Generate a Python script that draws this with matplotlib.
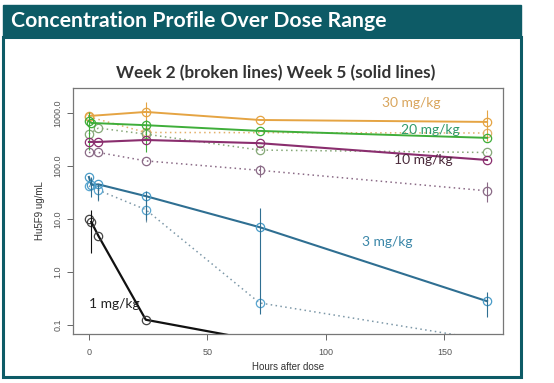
import numpy as np
import matplotlib.pyplot as plt
from matplotlib.patches import Rectangle

# sampling times (hours after dose)
times = [0, 1, 4, 24, 72, 168]
nan = np.nan

# Week 5 (solid lines)
w5_30 = [880, nan, nan, 1050, 740, 680]
w5_20 = [700, 650, nan, 590, 460, 340]
w5_10 = [285, nan, 285, 310, 270, 130]
w5_3 = [62, 44, 45, 27, 7.0, 0.28]
w5_1 = [nan, 8.8, 4.8, 0.125, 0.05, nan]

# Week 2 (broken lines)
w2_30 = [850, nan, nan, 430, nan, 420]
w2_20 = [400, nan, 520, 400, 200, 180]
w2_10 = [180, nan, 180, 125, 83, 34]
w2_3 = [42, nan, 35, 15, 0.26, 0.052]
w2_1 = [10, nan, nan, nan, nan, nan]

# error bar ranges (low, high), nan = none drawn
w5_30_lo = [nan, nan, nan, 520, nan, 300]
w5_30_hi = [nan, nan, nan, 1620, nan, 1150]
w5_20_lo = [200, nan, nan, 180, nan, nan]
w5_20_hi = [1040, nan, nan, 740, nan, nan]
w5_3_lo = [nan, 26, 23, 9.6, 0.16, 0.14]
w5_3_hi = [nan, 62, 45, 34, 16, 0.42]
w5_1_lo = [nan, 2.3, nan, nan, nan, nan]
w5_1_hi = [nan, 15, nan, nan, nan, nan]
w2_10_lo = [nan, nan, nan, nan, 62, 21]
w2_10_hi = [nan, nan, nan, nan, 105, 50]
w2_3_lo = [nan, nan, 22, 8.7, nan, nan]
w2_3_hi = [nan, nan, 45, 23, nan, nan]

doses = ["30 mg/kg", "20 mg/kg", "10 mg/kg", "3 mg/kg", "1 mg/kg"]
label_x = [136, 144, 141, 126, 0]
label_y = [1540, 480, 130, 3.7, 0.25]

col_30 = "#e5a443"
col_20 = "#3fae3a"
col_10 = "#8a2e6e"
col_3 = "#2f6f92"
col_1 = "#111111"
teal = "#0d5b66"

W, H = 554, 383
fig = plt.figure(figsize=(W / 100, H / 100), dpi=100)
fig.patch.set_facecolor("white")

# banner + panel frame
fig.patches.append(Rectangle((3 / W, 1 - 377 / H), 518 / W, 340 / H, transform=fig.transFigure,
                             facecolor="none", edgecolor=teal, lw=2.2, zorder=0))
fig.patches.append(Rectangle((3 / W, 1 - 37 / H), 518 / W, 32 / H, transform=fig.transFigure,
                             facecolor=teal, edgecolor=teal, lw=1, zorder=1))
fig.text(11 / W, 1 - 21 / H, "Concentration Profile Over Dose Range", color="white",
         fontsize=15.3, fontfamily="Lato", fontweight="bold", va="center", ha="left")
fig.text(276 / W, 1 - 73 / H, "Week 2 (broken lines) Week 5 (solid lines)", color="#333333",
         fontsize=12.3, fontfamily="Lato", fontweight="bold", va="center", ha="center")

ax = fig.add_axes([73 / W, 1 - 334 / H, 430 / W, 246 / H])
ax.set_yscale("log")
ax.set_xlim(-6.72, 174.72)
ax.set_ylim(10 ** -1.172, 10 ** 3.473)


def draw(y, color, ls, lw, lo=None, hi=None, mcolor=None):
    t = np.array(times, float)
    y = np.array(y, float)
    ok = ~np.isnan(y)
    line, = ax.plot(t[ok], y[ok], ls=ls, color=color, lw=lw, marker="o", ms=6,
                    mfc="none", mec=mcolor or color, mew=0.9)
    if ls == ":":
        line.set_dashes([1, 2.2])
    if lo is not None:
        ax.vlines(t, lo, hi, color=color, lw=0.8)


draw(w2_30, "#e3b06a", ":", 1.1)
draw(w2_20, "#86a878", ":", 1.1)
draw(w2_10, "#8a6a86", ":", 1.1, w2_10_lo, w2_10_hi)
draw(w2_3, "#7d98a8", ":", 1.1, w2_3_lo, w2_3_hi, mcolor="#5aa6d0")
draw(w2_1, "#444444", ":", 1.1)

draw(w5_30, col_30, "-", 1.4, w5_30_lo, w5_30_hi)
draw(w5_20, col_20, "-", 1.4, w5_20_lo, w5_20_hi)
draw(w5_10, col_10, "-", 1.5)
draw(w5_3, col_3, "-", 1.5, w5_3_lo, w5_3_hi, mcolor="#4a9cc8")
draw(w5_1, col_1, "-", 1.6, w5_1_lo, w5_1_hi, mcolor="#444444")

label_cols = ["#d9a55c", "#2f9a6a", "#4a2a3a", "#3a86a8", "#222222"]
for i, d in enumerate(doses):
    ax.text(label_x[i], label_y[i], d, color=label_cols[i], fontsize=10, fontfamily="Lato",
            ha="center" if i < 4 else "left", va="center")

ax.set_xticks([0, 50, 100, 150])
ax.set_yticks([0.1, 1, 10, 100, 1000])
ax.set_yticklabels(["0.1", "1.0", "10.0", "100.0", "1000.0"], rotation=90, va="center")
ax.minorticks_off()
ax.tick_params(colors="#666666", labelsize=6.5, length=4, width=0.7, labelcolor="#555555")
ax.tick_params(axis="x", pad=6)
for lab in ax.get_xticklabels() + ax.get_yticklabels():
    lab.set_fontfamily("Liberation Sans")
for s in ax.spines.values():
    s.set_color("#777777")
    s.set_linewidth(0.9)
ax.set_xlabel("Hours after dose", fontsize=7, color="#333333", labelpad=4,
              fontfamily="Liberation Sans")
ax.set_ylabel("Hu5F9 ug/mL", fontsize=7, color="#333333", labelpad=6,
              fontfamily="Liberation Sans")

fig.savefig("out.png", dpi=100)
